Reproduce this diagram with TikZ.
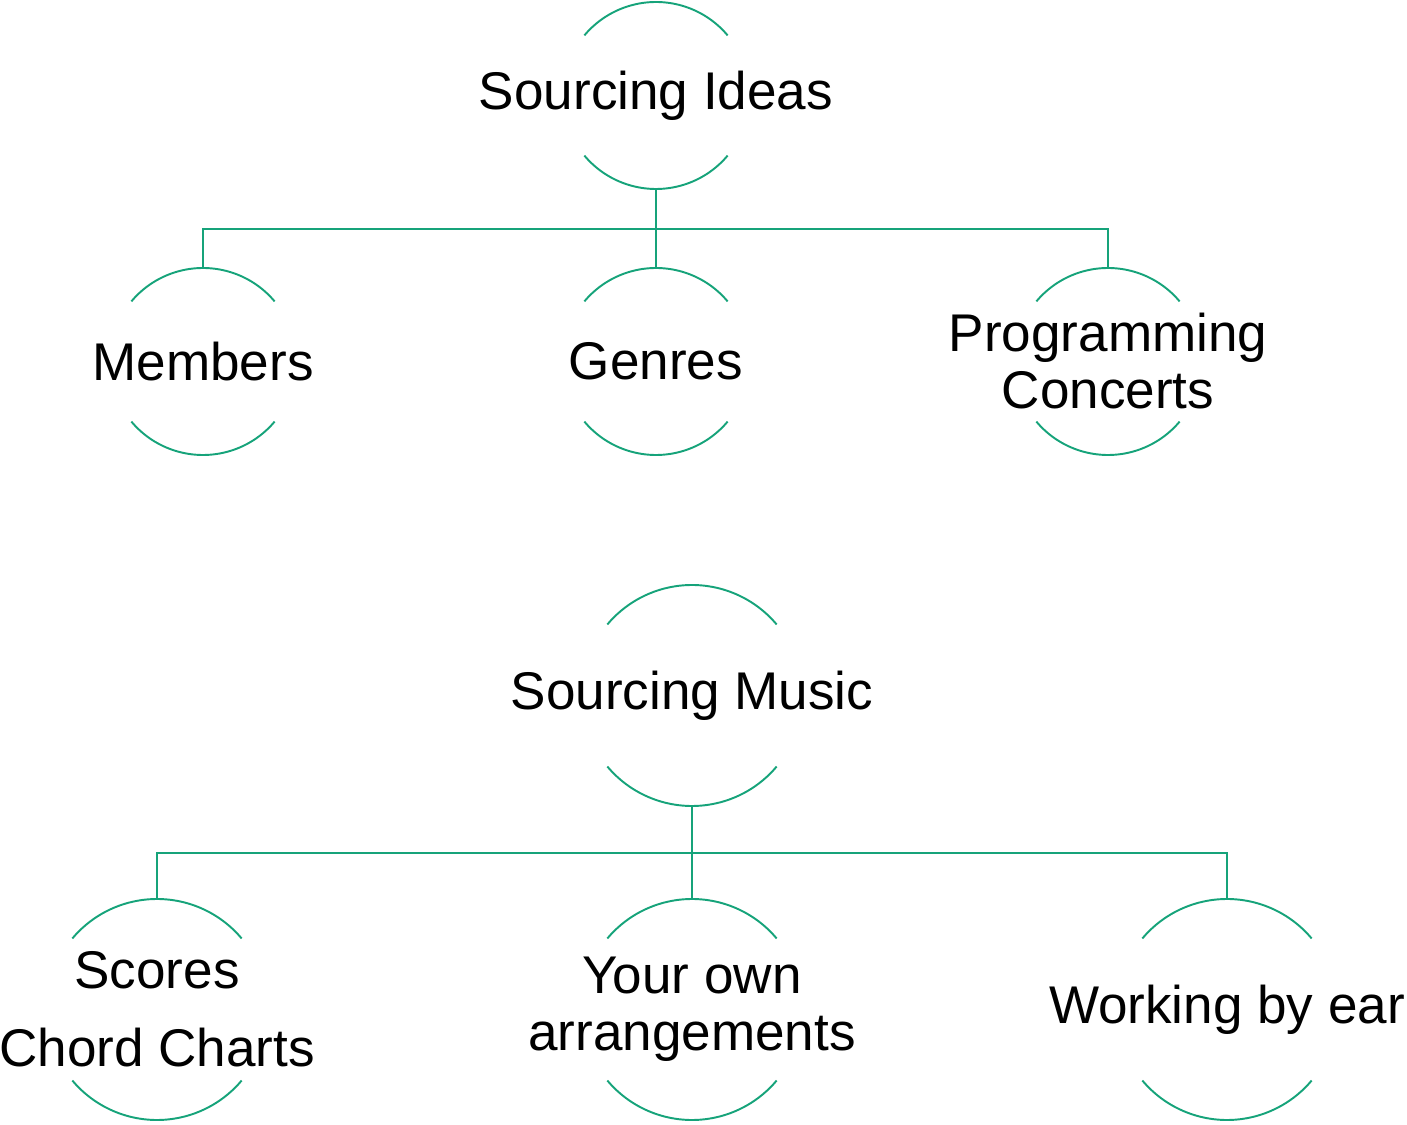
\documentclass[tikz,border=0pt]{standalone}
\usepackage{fontspec}
\setmainfont{Liberation Sans}
\definecolor{rimgreen}{RGB}{22,163,122}
\tikzset{
  rim/.style={draw=rimgreen, line width=1.1pt},
  word/.style={font=\fontsize{30.2}{32.4}\selectfont, align=center, inner sep=0pt}
}
\begin{document}
\begin{tikzpicture}
      \useasboundingbox (0,0) rectangle (28.14,22.48);
      \draw
        (13.12,20.57) node[word] (ideas){Sourcing Ideas}
        (4.06,15.25) node[word] (members){Members}
        (13.12,15.25) node[word] (genres){Genres}
        (22.16,15.25) node[word] (programming){Programming\\Concerts}
        (13.84,8.57) node[word] (music){Sourcing Music}
        (3.14,2.29) node[word] (scores){Scores\\[12pt]Chord Charts}
        (13.84,2.29) node[word] (own){Your own\\arrangements}
        (24.54,2.29) node[word] (ear){Working by ear};
      \foreach \n/\r in {ideas/1.87,members/1.87,genres/1.87,programming/1.87,
                         music/2.21,scores/2.21,own/2.21,ear/2.21} {
        \coordinate (\n-n) at ([yshift=\r cm]\n.center);
        \coordinate (\n-s) at ([yshift=-\r cm]\n.center);
        \draw[rim] ([shift={(40:\r)}]\n.center) arc[start angle=40, end angle=140, radius=\r];
        \draw[rim] ([shift={(220:\r)}]\n.center) arc[start angle=220, end angle=320, radius=\r];
      }
      \begin{scope}[rim]
        \draw (ideas-s) to (genres-n);
        \draw (members-n) -- ++(0,0.78) -| (programming-n);
        \draw (music-s) to (own-n);
        \draw (scores-n) -- ++(0,0.92) -| (ear-n);
      \end{scope}
    \end{tikzpicture}
\end{document}
